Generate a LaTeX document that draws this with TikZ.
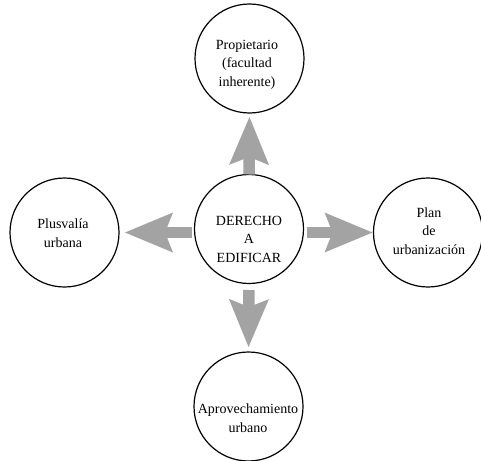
\documentclass[tikz,border=0pt]{standalone}
\usepackage{fontspec}
\setmainfont{Liberation Serif}
\usetikzlibrary{arrows.meta}
\definecolor{arrowgray}{RGB}{163,163,163}
\begin{document}
\begin{tikzpicture}[x=1pt,y=-1pt,
  topic/.style={circle,draw=black,line width=1.2pt,minimum size=109pt,inner sep=0pt,outer sep=0pt},
  caption/.style={align=center,font=\fontsize{14}{18.5}\selectfont,inner sep=0pt},
  bigarrow/.style={draw=arrowgray,line width=11.5pt,
    -{Stealth[length=48pt,width=40pt,inset=8pt,line width=0pt,fill=arrowgray]}}]
\useasboundingbox (0,0) rectangle (481,460);

% circles
\node[topic] (P) at (249.5,58.5) {};
\node[topic] (C) at (249,229) {};
\node[topic] (L) at (64.5,232.5) {};
\node[topic] (R) at (428,232.5) {};
\node[topic] (B) at (248.5,406.5) {};

% texts
\node[caption] (tP) at (247,64.5) {Propietario\\(facultad\\inherente)};
\node[caption] (tC) at (249,239) {DERECHO\\A\\EDIFICAR};
\node[caption] (tL) at (63,233) {Plusvalía\\urbana};
\node[caption] (tR) at (429,231) {Plan\\de\\urbanización};
\node[caption] (tB) at (248,418) {Aprovechamiento\\urbano};

% block arrows
\draw[bigarrow,shorten >=4pt] (C.north) -- (P.south);
\draw[bigarrow,shorten <=3pt,shorten >=6pt] ([yshift=-3.5pt]C.west) -- (L.east);
\draw[bigarrow,shorten <=3pt,shorten >=1pt] ([yshift=-3.5pt]C.east) -- (R.west);
\draw[bigarrow,shorten <=6.5pt,shorten >=5pt] (C.south) -- (B.north);
\end{tikzpicture}
\end{document}
